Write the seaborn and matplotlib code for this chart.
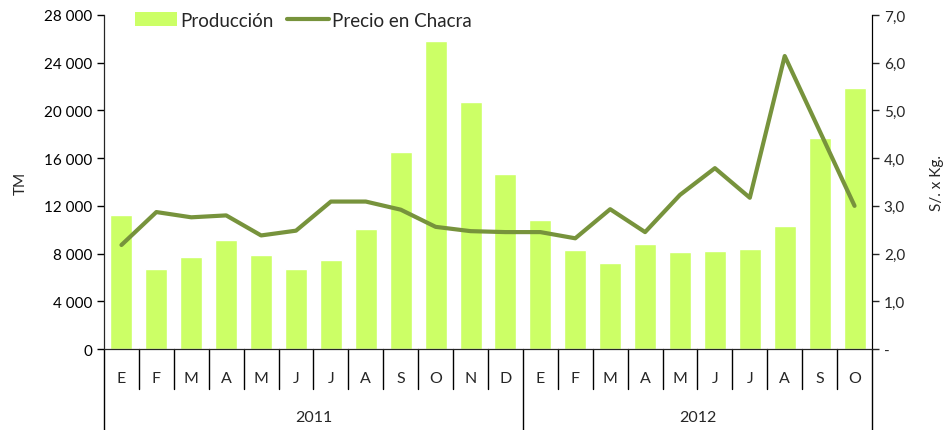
"""
Produccion mensual (barras) y precio en chacra (linea), 2011-2012.
"""
import matplotlib.pyplot as plt
import matplotlib.ticker as mticker
from matplotlib.lines import Line2D
from matplotlib.patches import Patch
import numpy as np
import pandas as pd
import seaborn as sns

BAR_COLOR = "#CCFF66"
LINE_COLOR = "#77933C"

months = ["E", "F", "M", "A", "M", "J", "J", "A", "S", "O", "N", "D",
          "E", "F", "M", "A", "M", "J", "J", "A", "S", "O"]
years = ["2011"] * 12 + ["2012"] * 10
produccion = [11230, 6710, 7740, 9170, 7880, 6710, 7460, 10060, 16490, 25820, 20730, 14700,
              10840, 8270, 7210, 8770, 8130, 8240, 8380, 10310, 17660, 21880]
precio = [2.18, 2.87, 2.76, 2.80, 2.38, 2.48, 3.09, 3.09, 2.92, 2.56, 2.47, 2.45,
          2.45, 2.32, 2.93, 2.45, 3.23, 3.79, 3.17, 6.14, 4.57, 3.00]


def _thousands(v, pos):
    return f"{int(v):,}".replace(",", " ")


def _decimal_comma(v, pos):
    if abs(v) < 1e-9:
        return "-"
    return f"{v:.1f}".replace(".", ",")


sns.set_style("ticks")
plt.rcParams["font.family"] = ["Lato", "DejaVu Sans"]
plt.rcParams["font.size"] = 11

data = pd.DataFrame({"mes": months, "anio": years, "produccion": produccion, "precio": precio})
data["periodo"] = data["anio"] + "-" + data["mes"] + "-" + data.index.astype(str)
pos = np.arange(len(data))

fig, ax = plt.subplots(figsize=(9.47, 4.31), dpi=100)
fig.subplots_adjust(left=104 / 947, right=872 / 947, top=1 - 16 / 431, bottom=1 - 350 / 431)

# bars: production
sns.barplot(data=data, x="periodo", y="produccion", color=BAR_COLOR, saturation=1,
            width=0.63, ax=ax)
ax.set_ylim(0, 28000)
ax.set_xlim(-0.5, len(data) - 0.5)
ax.yaxis.set_major_locator(mticker.MultipleLocator(4000))
ax.yaxis.set_major_formatter(mticker.FuncFormatter(_thousands))
ax.set_ylabel("TM", labelpad=12)
ax.set_xlabel("")
ax.set_xticks(pos, labels=data["mes"], fontsize=11.5)
ax.tick_params(axis="x", length=0, pad=16)
ax.tick_params(axis="y", direction="out", length=5, width=1, colors="black")
for s in ["left", "bottom", "right"]:
    ax.spines[s].set_color("black")
ax.spines["top"].set_visible(False)

# line: price on right axis
ax2 = ax.twinx()
sns.lineplot(x=pos, y=data["precio"], color=LINE_COLOR, linewidth=3.0, ax=ax2)
ax2.set_ylim(0, 7)
ax2.yaxis.set_major_locator(mticker.MultipleLocator(1))
ax2.yaxis.set_major_formatter(mticker.FuncFormatter(_decimal_comma))
ax2.set_ylabel("S/. x Kg.", labelpad=18)
ax2.tick_params(axis="y", direction="out", length=5, width=1)
ax2.spines["top"].set_visible(False)
ax2.spines["right"].set_color("black")

# two-level category axis
trans = ax.get_xaxis_transform()
year_edges = [-0.5] + [i + 0.5 for i in range(len(years) - 1) if years[i] != years[i + 1]] + [len(years) - 0.5]
for i in range(len(months) + 1):
    x = i - 0.5
    low = -0.245 if x in year_edges else -0.12
    ax.plot([x, x], [0, low], transform=trans, color="black", lw=1, clip_on=False)
for y in sorted(set(years)):
    idx = pos[data["anio"] == y]
    ax.text(idx.mean(), -0.205, y, transform=trans, ha="center", va="center", fontsize=11.5)

handles = [Patch(facecolor=BAR_COLOR, edgecolor="none", label="Producción"),
           Line2D([0], [0], color=LINE_COLOR, lw=3.0, label="Precio en Chacra")]
ax.legend(handles=handles, loc="center left", bbox_to_anchor=(0.031, 0.985), ncol=2,
          frameon=False, fontsize=13.5, handlelength=2.25, handletextpad=0.15,
          columnspacing=0.7, borderaxespad=0)

fig.savefig("out.png", dpi=100)
